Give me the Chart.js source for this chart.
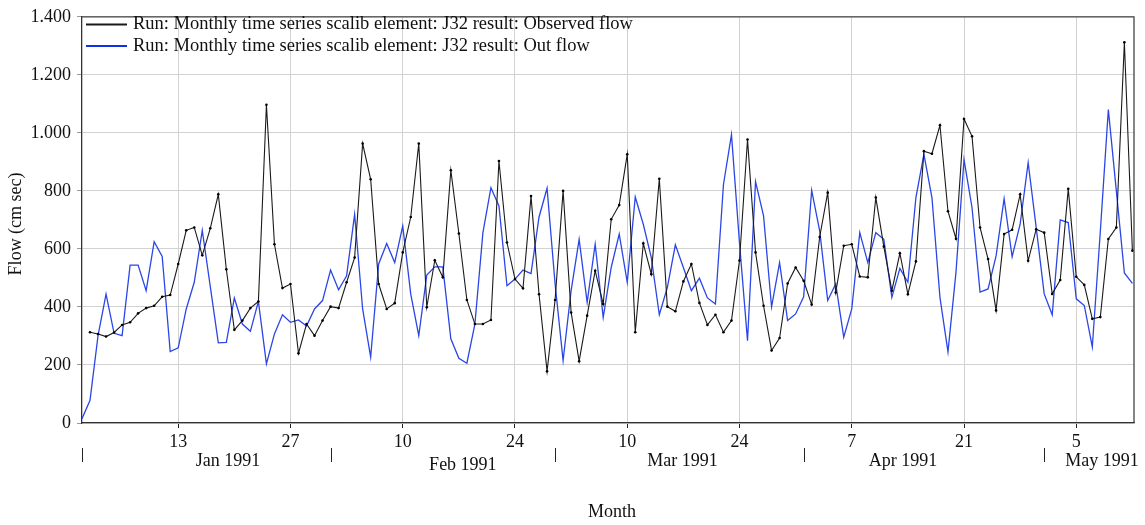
<!DOCTYPE html>
<html>
<head>
<meta charset="utf-8">
<script src="https://cdn.jsdelivr.net/npm/chart.js@4"></script>
<style>
  html, body { margin: 0; padding: 0; background: #fff; }
  canvas { display: block; }
</style>
</head>
<body>
<canvas id="flowChart" width="1145" height="525"></canvas>
<script>
// daily values, index 0 = 1 Jan 1991
const observedFlow = [
  null, 313, 307, 298, 312, 338, 347, 378, 396, 404, 435, 441, 548, 664, 674, 578, 671, 788, 530, 321,
  353, 396, 419, 1097, 616, 465, 479, 240, 341, 301, 353, 401, 396, 485, 570, 963, 840, 479, 393, 413,
  588, 710, 963, 399, 561, 502, 871, 653, 424, 341, 341, 355, 903, 622, 496, 464, 782, 444, 178, 424,
  800, 381, 213, 370, 525, 410, 702, 751, 926, 313, 619, 513, 842, 401, 385, 488, 548, 414, 338, 373,
  313, 353, 560, 977, 588, 404, 250, 293, 481, 536, 490, 408, 641, 794, 450, 611, 616, 505, 502, 777,
  608, 456, 585, 444, 557, 937, 928, 1026, 730, 635, 1048, 988, 674, 565, 388, 651, 666, 788, 559, 668,
  656, 445, 493, 807, 504, 476, 359, 365, 634, 674, 1312, 594
];
const outFlow = [
  15, 78, 301, 444, 309, 301, 544, 544, 456, 625, 574, 246, 259, 393, 485, 664, 470, 276, 278, 431,
  341, 316, 419, 204, 307, 373, 347, 355, 334, 393, 422, 527, 459, 507, 719, 393, 227, 548, 619, 553,
  679, 444, 301, 510, 538, 538, 290, 223, 206, 341, 656, 811, 748, 473, 496, 527, 515, 710, 809, 480,
  215, 456, 633, 416, 616, 364, 536, 651, 485, 779, 685, 570, 373, 467, 614, 536, 456, 499, 431, 410,
  822, 994, 620, 284, 832, 714, 400, 553, 353, 376, 435, 802, 662, 422, 479, 296, 393, 656, 553, 656,
  633, 433, 533, 485, 777, 926, 777, 433, 245, 520, 908, 742, 451, 462, 576, 773, 573, 685, 897, 674,
  445, 373, 700, 691, 428, 405, 262, 660, 1080, 799, 517, 481
];

const seriesNames = [
  'Run: Monthly time series scalib element: J32 result: Observed flow',
  'Run: Monthly time series scalib element: J32 result: Out flow'
];

// day ticks (days since 1 Jan) and what they read
const tickDays = [12, 26, 40, 54, 68, 82, 96, 110, 124];
const tickLabels = ['13', '27', '10', '24', '10', '24', '7', '21', '5'];

// month boundaries (days since 1 Jan) and month names
const monthStarts = [0, 31, 59, 90, 120];
const monthLabels = ['Jan 1991', 'Feb 1991', 'Mar 1991', 'Apr 1991', 'May 1991'];

const lastDay = 131.2;
const FONT = '"Liberation Serif", "Times New Roman", serif';
const BLACK = '#1a1a1a';
const BLUE = '#2a46e6';

// where the month names sit along the axis (in days) and their vertical nudge
const monthLabelAt = [18.2, 47.5, 74.9, 102.4, 127.2];
const monthLabelDy = [0, 4, 0, 0, 0];

function thousands(v) {
  return String(v).replace(/\B(?=(\d{3})+(?!\d))/g, '.');
}

const extras = {
  id: 'extras',
  afterDraw(chart) {
    const { ctx, chartArea: a, scales: { x } } = chart;
    ctx.save();

    // frame top / right
    ctx.strokeStyle = '#444';
    ctx.lineWidth = 1.3;
    ctx.beginPath();
    ctx.moveTo(a.left, a.top);
    ctx.lineTo(a.right, a.top);
    ctx.lineTo(a.right, a.bottom);
    ctx.stroke();

    // month separators + names
    ctx.strokeStyle = '#222';
    ctx.lineWidth = 1;
    monthStarts.forEach(d => {
      const px = Math.round(x.getPixelForValue(d)) + 0.5;
      ctx.beginPath();
      ctx.moveTo(px, 448);
      ctx.lineTo(px, 462);
      ctx.stroke();
    });
    ctx.fillStyle = '#111';
    ctx.font = '18px ' + FONT;
    ctx.textAlign = 'center';
    ctx.textBaseline = 'middle';
    monthLabels.forEach((m, i) => {
      ctx.fillText(m, x.getPixelForValue(monthLabelAt[i]), 461 + monthLabelDy[i]);
    });

    // axis titles
    ctx.fillText('Month', (a.left + a.right) / 2 + 4, 512);
    ctx.save();
    ctx.translate(16, (a.top + a.bottom) / 2 + 4);
    ctx.rotate(-Math.PI / 2);
    ctx.fillText('Flow (cm sec)', 0, 0);
    ctx.restore();

    // legend
    const colors = [BLACK, '#1030e8'];
    ctx.font = '18.5px ' + FONT;
    ctx.textAlign = 'left';
    seriesNames.forEach((name, i) => {
      const y = 24.5 + i * 21.5;
      ctx.strokeStyle = colors[i];
      ctx.lineWidth = 2;
      ctx.beginPath();
      ctx.moveTo(86, y);
      ctx.lineTo(127, y);
      ctx.stroke();
      ctx.fillStyle = '#111';
      ctx.fillText(name, 133, y);
    });

    ctx.restore();
  }
};

new Chart(document.getElementById('flowChart'), {
  type: 'line',
  data: {
    datasets: [
      {
        label: seriesNames[0],
        data: observedFlow.map((v, i) => ({ x: i, y: v })),
        borderColor: BLACK,
        borderWidth: 1.1,
        pointRadius: 1.3,
        pointBorderWidth: 0,
        pointBackgroundColor: '#000',
        tension: 0
      },
      {
        label: seriesNames[1],
        data: outFlow.map((v, i) => ({ x: i, y: v })),
        borderColor: BLUE,
        borderWidth: 1.3,
        pointRadius: 0,
        tension: 0
      }
    ]
  },
  options: {
    responsive: false,
    animation: false,
    layout: { padding: { top: 15, right: 11, left: 0, bottom: 0 } },
    plugins: { legend: { display: false }, tooltip: { enabled: false } },
    scales: {
      x: {
        type: 'linear',
        min: 0,
        max: lastDay,
        afterBuildTicks: s => { s.ticks = tickDays.map(v => ({ value: v })); },
        afterFit: s => { s.height = 102; },
        grid: { color: '#d2d2d2', lineWidth: 1, tickColor: '#222', tickLength: 5 },
        border: { color: '#333', width: 1.3 },
        ticks: {
          autoSkip: false,
          maxRotation: 0,
          padding: 3,
          color: '#111',
          font: { family: FONT, size: 18 },
          callback: v => tickLabels[tickDays.indexOf(v)]
        }
      },
      y: {
        min: 0,
        max: 1400,
        afterFit: s => { s.width = 82; },
        grid: { color: '#d2d2d2', lineWidth: 1, tickColor: '#999', tickLength: 5 },
        border: { color: '#333', width: 1.3 },
        ticks: {
          stepSize: 200,
          padding: 6,
          color: '#111',
          font: { family: FONT, size: 18 },
          callback: v => thousands(v)
        }
      }
    }
  },
  plugins: [extras]
});
</script>
</body>
</html>
